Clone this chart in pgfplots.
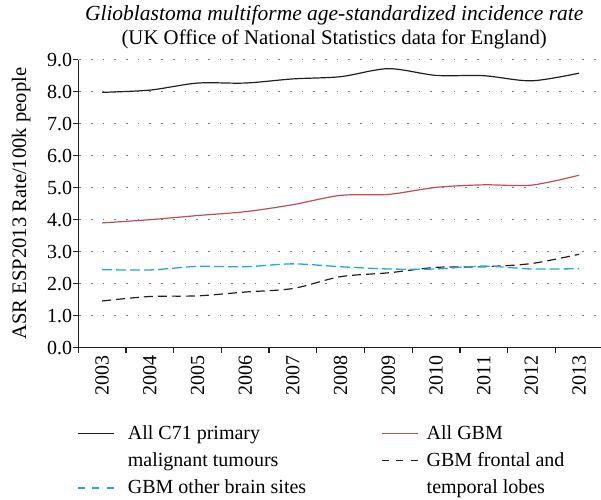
\documentclass[border=0pt]{standalone}
\usepackage{fontspec}
\setmainfont{Liberation Serif}
\usepackage{pgfplots}
\pgfplotsset{compat=1.18}
\definecolor{c71}{RGB}{35,31,32}
\definecolor{gbmred}{RGB}{192,80,77}
\definecolor{gbmblue}{RGB}{30,170,225}
\definecolor{gridgray}{RGB}{125,125,125}
\begin{document}
\fontsize{20bp}{24bp}\selectfont
\begin{tikzpicture}
\useasboundingbox (-78.3bp,-152.3bp) rectangle (522.7bp,347.7bp);
\begin{axis}[
  scale only axis, width=522.3bp, height=288bp,
  at={(0,0)}, anchor=south west,
  xmin=-0.5, xmax=10.45, ymin=0, ymax=9,
  axis lines=left, axis line style={-, c71, line width=1.3bp},
  tick align=outside, major tick length=5bp,
  tick style={c71, line width=1.3bp},
  xtick={-0.5,0.5,1.5,2.5,3.5,4.5,5.5,6.5,7.5,8.5,9.5}, xticklabels={},
  extra x ticks={0,1,2,3,4,5,6,7,8,9,10},
  extra x tick labels={2003,2004,2005,2006,2007,2008,2009,2010,2011,2012,2013},
  extra x tick style={major tick length=0pt, tick style={draw=none},
     xticklabel style={rotate=90, anchor=east, inner sep=0pt, xshift=-8bp}},
  ytick={0,1,2,3,4,5,6,7,8,9},
  /pgf/number format/assume math mode=true,
  yticklabel style={/pgf/number format/.cd, fixed, fixed zerofill, precision=1, /tikz/.cd, inner xsep=1bp},
  ymajorgrids,
  grid style={gridgray, line width=1.5bp, dash pattern=on 1.6bp off 10.1bp, dash phase=10.7bp},
  title={{\fontsize{21.5bp}{24.5bp}\selectfont\textit{Glioblastoma multiforme age-standardized incidence rate}}\\(UK Office of National Statistics data for England)},
  title style={at={(axis description cs:0.49,1)}, anchor=south, align=center, inner sep=0pt, yshift=4.4bp, font=\fontsize{20.8bp}{24.5bp}\selectfont},
  ylabel={ASR ESP2013 Rate/100k people},
  ylabel style={at={(axis description cs:-0.1001,0.5)}, anchor=base, inner sep=0pt, font=\fontsize{20.6bp}{24bp}\selectfont},
  legend columns=2,
  legend cell align=left,
  legend style={draw=none, fill=none, at={(axis description cs:-0.0019,-0.2517)}, anchor=north west,
     inner sep=0pt, outer sep=0pt, row sep=0pt, column sep=13.3bp,
     nodes={inner sep=0pt, text height=19.11bp, text depth=8.19bp},
     /tikz/every even column/.append style={column sep=75bp},
     /tikz/column 3/.append style={column sep=8.3bp}},
  legend image code/.code={\draw[#1] (0bp,0.5bp) -- (36bp,0.5bp);},
]
\addplot[c71, line width=1.2bp, smooth, forget plot] coordinates {
(0,7.98) (1,8.05) (2,8.27) (3,8.27) (4,8.40) (5,8.47) (6,8.72) (7,8.51) (8,8.50) (9,8.34) (10,8.58)};
\addplot[gbmred, line width=1.2bp, smooth, forget plot] coordinates {
(0,3.90) (1,4.00) (2,4.13) (3,4.25) (4,4.47) (5,4.76) (6,4.79) (7,5.01) (8,5.09) (9,5.08) (10,5.39)};
\addplot[c71, line width=1.2bp, smooth, dash pattern=on 9bp off 5bp, forget plot] coordinates {
(0,1.46) (1,1.60) (2,1.62) (3,1.74) (4,1.85) (5,2.22) (6,2.34) (7,2.51) (8,2.53) (9,2.63) (10,2.92)};
\addplot[gbmblue, line width=1.3bp, smooth, dash pattern=on 10bp off 4bp, forget plot] coordinates {
(0,2.44) (1,2.43) (2,2.54) (3,2.53) (4,2.62) (5,2.53) (6,2.46) (7,2.46) (8,2.55) (9,2.46) (10,2.47)};
\addlegendimage{c71, line width=1.2bp}
\addlegendimage{gbmred, line width=1.2bp}
\addlegendimage{empty legend}
\addlegendimage{c71, line width=1.2bp, dash pattern=on 7bp off 7.5bp}
\addlegendimage{gbmblue, line width=1.3bp, dash pattern=on 7bp off 7.5bp}
\addlegendimage{empty legend}
\legend{All C71 primary, All GBM, malignant tumours, GBM frontal and, GBM other brain sites, temporal lobes}
\end{axis}
\end{tikzpicture}
\end{document}
